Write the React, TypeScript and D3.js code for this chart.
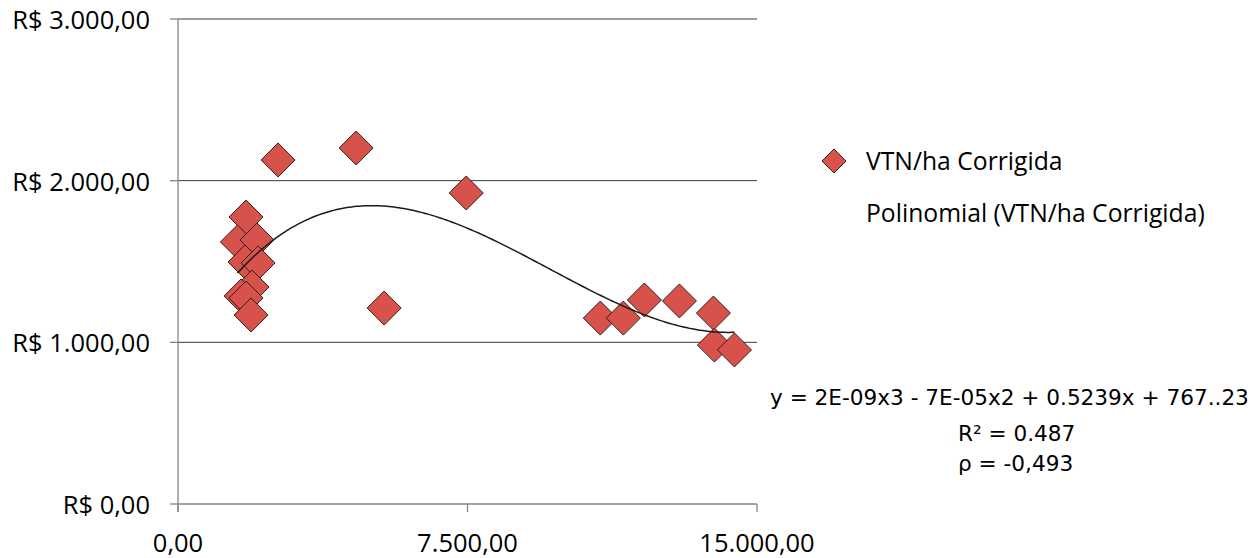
import React from "react";
import * as d3 from "d3";

const xValues = [2593, 4615, 7467, 5341, 1763, 1540, 2048, 1737, 2074, 1919, 1633, 1763, 1893, 10941, 11537, 12082, 12990, 13871, 13897, 14416];
const yValues = [2128, 2202, 1924, 1212, 1775, 1621, 1633, 1497, 1491, 1342, 1287, 1274, 1169, 1150, 1150, 1262, 1256, 1181, 983, 953];
const xTicks = [0, 7500, 15000];
const yTicks = [0, 1000, 2000, 3000];
const seriesName = "VTN/ha Corrigida";
const trendName = "Polinomial (VTN/ha Corrigida)";
const equationLines = ["y = 2E-09x3 - 7E-05x2 + 0.5239x + 767..23", "R² = 0.487", "ρ = -0,493"];

function fitCubic(xs: number[], ys: number[]) {
  const s = 10000;
  const n = 4;
  const A: number[][] = Array.from({ length: n }, () => Array(n + 1).fill(0));
  xs.forEach((xr, k) => {
    const x = xr / s;
    const p = [1, x, x * x, x * x * x];
    for (let i = 0; i < n; i++) {
      for (let j = 0; j < n; j++) A[i][j] += p[i] * p[j];
      A[i][n] += p[i] * ys[k];
    }
  });
  for (let i = 0; i < n; i++) {
    let m = i;
    for (let r = i + 1; r < n; r++) if (Math.abs(A[r][i]) > Math.abs(A[m][i])) m = r;
    [A[i], A[m]] = [A[m], A[i]];
    for (let r = 0; r < n; r++) {
      if (r === i) continue;
      const f = A[r][i] / A[i][i];
      for (let c = i; c <= n; c++) A[r][c] -= f * A[i][c];
    }
  }
  const c = A.map((row, i) => row[n] / row[i]);
  return (xr: number) => {
    const x = xr / s;
    return c[0] + c[1] * x + c[2] * x * x + c[3] * x * x * x;
  };
}

const fmt = (v: number) =>
  v.toLocaleString("pt-BR", { minimumFractionDigits: 2, maximumFractionDigits: 2 });

export default function App() {
  const W = 1256, H = 558;
  const x = d3.scaleLinear().domain([0, 15000]).range([178, 757]);
  const y = d3.scaleLinear().domain([0, 3000]).range([504, 19]);
  const f = fitCubic(xValues, yValues);
  const xmin = d3.min(xValues)!, xmax = d3.max(xValues)!;
  const curvePts = d3.range(0, 201).map((i) => {
    const xv = xmin + ((xmax - xmin) * i) / 200;
    return [x(xv), y(f(xv))] as [number, number];
  });
  const line = d3.line().curve(d3.curveLinear)(curvePts)!;
  const diamond = (cx: number, cy: number, r: number) =>
    `M${cx},${cy - r}L${cx + r},${cy}L${cx},${cy + r}L${cx - r},${cy}Z`;
  const font = "'Open Sans', sans-serif";
  const eqFont = "'DejaVu Sans', sans-serif";
  return (
    <svg width={W} height={H} style={{ position: "absolute", left: 0, top: 0, background: "#fff" }}>
      {yTicks.filter((t) => t > 0).map((t) => (
        <line key={t} x1={x(0)} x2={x(15000)} y1={y(t)} y2={y(t)} stroke="#3a3a3a" strokeWidth={1} />
      ))}
      <line x1={x(0)} x2={x(0)} y1={y(3000)} y2={y(0) + 8} stroke="#868686" strokeWidth={1.3} />
      <line x1={x(0)} x2={x(15000)} y1={y(0)} y2={y(0)} stroke="#868686" strokeWidth={1.3} />
      {yTicks.map((t) => (
        <g key={t}>
          <line x1={x(0) - 8} x2={x(0)} y1={y(t)} y2={y(t)} stroke="#868686" strokeWidth={1.3} />
          <text x={150} y={y(t)} textAnchor="end" dominantBaseline="central" fontFamily={font} fontSize={25.5} fill="#000">
            {"R$ " + fmt(t)}
          </text>
        </g>
      ))}
      {xTicks.map((t) => (
        <g key={t}>
          <line x1={x(t)} x2={x(t)} y1={y(0)} y2={y(0) + 8} stroke="#868686" strokeWidth={1.3} />
          <text x={x(t)} y={552} textAnchor="middle" fontFamily={font} fontSize={25.5} fill="#000">
            {fmt(t)}
          </text>
        </g>
      ))}
      {xValues.map((xv, i) => (
        <path key={i} d={diamond(x(xv), y(yValues[i]), 17)} fill="#d6524a" stroke="#3a1c1a" strokeWidth={1} />
      ))}
      <path d={line} fill="none" stroke="#1a1a1a" strokeWidth={1.5} />
      <path d={diamond(834, 161, 12)} fill="#d6524a" stroke="#3a1c1a" strokeWidth={1} />
      <text x={866} y={160} dominantBaseline="central" fontFamily={font} fontSize={24.7} fill="#000">{seriesName}</text>
      <text x={866} y={212} dominantBaseline="central" fontFamily={font} fontSize={24.7} fill="#000">{trendName}</text>
      <text x={770} y={405} fontFamily={eqFont} fontSize={21.6} fill="#000">{equationLines[0]}</text>
      <text x={958} y={441} fontFamily={eqFont} fontSize={21.6} fill="#000">{equationLines[1]}</text>
      <text x={958} y={471} fontFamily={eqFont} fontSize={21.6} fill="#000">{equationLines[2]}</text>
    </svg>
  );
}
